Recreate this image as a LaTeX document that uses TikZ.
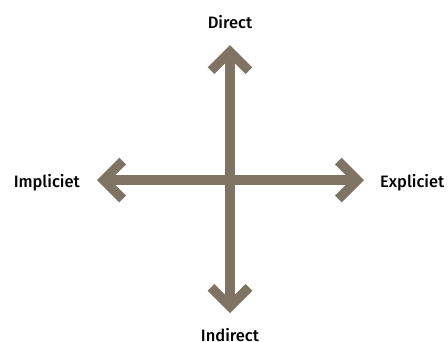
\documentclass[tikz,border=0pt]{standalone}
\usepackage{fontspec}
\setmainfont{Fira Sans}[UprightFont=* Medium]
\usepackage{tikz}
\usetikzlibrary{arrows.meta, positioning}
\definecolor{taupe}{RGB}{127,116,100}

\begin{document}
\begin{tikzpicture}[
  x=1pt, y=-1pt,
  node distance=6pt,
  arr/.style={{Straight Barb[length=19pt, width=38pt]}-{Straight Barb[length=19pt, width=38pt]},
              draw=taupe, line width=9.5pt},
  lbl/.style={font=\fontsize{16.5}{18}\selectfont, text=black, inner sep=0pt}
]
\useasboundingbox (0,0) rectangle (448,341);
\coordinate (top) at (230,45);
\coordinate (bot) at (230,313);
\coordinate (lft) at (97,180);
\coordinate (rgt) at (364,180);

\node[lbl, anchor=base] (direct) at (230,28) {Direct};
\node[lbl, anchor=base] (indirect) at (230,341) {Indirect};
\node[lbl, anchor=base east] (impliciet) at (80,187) {Impliciet};
\node[lbl, anchor=base west] (expliciet) at (380,187) {Expliciet};

\draw[arr] (bot) -- (top);
\draw[arr] (lft) -- (rgt);
\end{tikzpicture}
\end{document}
